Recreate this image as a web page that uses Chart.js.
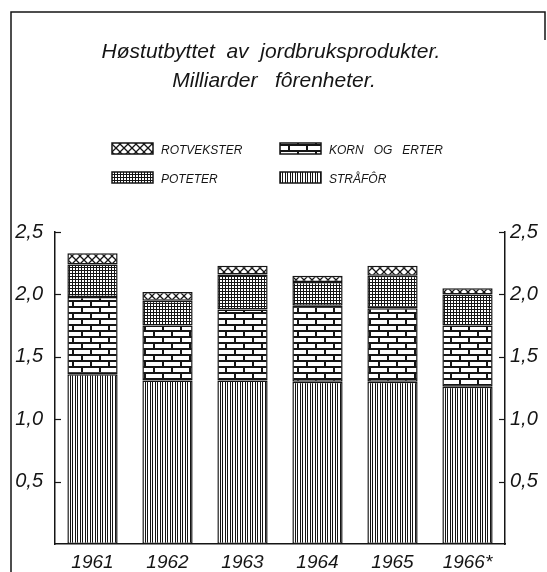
<!DOCTYPE html>
<html>
<head>
<meta charset="utf-8">
<script src="https://cdn.jsdelivr.net/npm/chart.js@4/dist/chart.umd.min.js"></script>
<style>
  body { margin: 0; background: #fff; }
  canvas { display: block; }
</style>
</head>
<body>
<canvas id="harvestChart" width="547" height="572"></canvas>
<script>
// Høstutbyttet av jordbruksprodukter, milliarder fôrenheter
const years = ['1961', '1962', '1963', '1964', '1965', '1966*'];
const straafor = [1.36, 1.31, 1.31, 1.30, 1.30, 1.26];
const kornOgErter = [0.62, 0.44, 0.57, 0.61, 0.59, 0.49];
const poteter = [0.26, 0.20, 0.28, 0.19, 0.26, 0.25];
const rotvekster = [0.09, 0.07, 0.07, 0.05, 0.08, 0.05];
const titleLines = ['Høstutbyttet  av  jordbruksprodukter.', 'Milliarder   fôrenheter.'];

const INK = '#151515';
const FONT = '"Liberation Sans", Arial, sans-serif';

// small tiles used as fill patterns (like the hatchings in the print)
function makePattern(w, h, draw) {
    const c = document.createElement('canvas');
    c.width = w;
    c.height = h;
    const g = c.getContext('2d');
    g.fillStyle = '#fff';
    g.fillRect(0, 0, w, h);
    g.fillStyle = INK;
    g.strokeStyle = INK;
    draw(g, w, h);
    return g.createPattern(c, 'repeat');
}

const strawFill = makePattern(5, 1, g => {
    g.fillRect(0, 0, 1, 1);
    g.fillRect(2, 0, 1, 1);
});
const brickFill = makePattern(18, 12, g => {
    g.fillRect(0, 0, 18, 2);
    g.fillRect(0, 6, 18, 2);
    g.fillRect(0, 0, 2, 6);
    g.fillRect(9, 6, 2, 6);
});
const potatoFill = makePattern(3, 3, g => {
    g.fillRect(0, 0, 3, 1);
    g.fillRect(0, 0, 1, 3);
});
const rootFill = makePattern(8, 8, g => {
    g.lineWidth = 1.3;
    g.beginPath();
    g.moveTo(-1, -1); g.lineTo(9, 9);
    g.moveTo(9, -1); g.lineTo(-1, 9);
    g.stroke();
});

const fmt = v => v.toFixed(1).replace('.', ',');

// title, legend, frame and inward tick marks
const decorations = {
    id: 'decorations',
    afterDraw(chart) {
        const ctx = chart.ctx;
        ctx.save();

        // frame
        ctx.strokeStyle = INK;
        ctx.lineWidth = 1.5;
        ctx.beginPath();
        ctx.moveTo(11, 572);
        ctx.lineTo(11, 12);
        ctx.lineTo(545, 12);
        ctx.lineTo(545, 40);
        ctx.stroke();

        // title
        ctx.fillStyle = INK;
        ctx.textAlign = 'center';
        ctx.textBaseline = 'alphabetic';
        ctx.font = 'italic 21px ' + FONT;
        ctx.fillText(titleLines[0], 271, 58);
        ctx.fillText(titleLines[1], 274, 87);

        // legend, two columns
        const order = [3, 1, 2, 0];
        const spots = [[112, 143], [280, 143], [112, 172], [280, 172]];
        ctx.font = 'italic 12px ' + FONT;
        ctx.textAlign = 'left';
        order.forEach((di, i) => {
            const ds = chart.data.datasets[di];
            const [x, y] = spots[i];
            ctx.fillStyle = ds.backgroundColor;
            ctx.fillRect(x, y, 41, 11);
            ctx.lineWidth = 1.5;
            ctx.strokeRect(x, y, 41, 11);
            ctx.fillStyle = INK;
            ctx.fillText(ds.label.toUpperCase().replace(/ /g, '   '), x + 49, y + 11);
        });

        // tick marks pointing into the plot
        const area = chart.chartArea;
        ctx.lineWidth = 1.2;
        ['y', 'y2'].forEach(id => {
            const sc = chart.scales[id];
            const x0 = id === 'y' ? area.left : area.right;
            const dir = id === 'y' ? 1 : -1;
            sc.ticks.forEach(t => {
                if (t.value === 0) return;
                const py = Math.round(sc.getPixelForValue(t.value)) + 0.5;
                ctx.beginPath();
                ctx.moveTo(x0, py);
                ctx.lineTo(x0 + dir * 6, py);
                ctx.stroke();
            });
        });
        ctx.restore();
    }
};

const yTickOpts = (padding) => ({
    stepSize: 0.5,
    padding: padding,
    color: INK,
    font: { family: FONT, size: 20, style: 'italic' },
    callback: v => (v === 0 ? '' : fmt(v))
});

new Chart(document.getElementById('harvestChart'), {
    type: 'bar',
    data: {
        labels: years,
        datasets: [
            { label: 'Stråfôr', data: straafor, backgroundColor: strawFill },
            { label: 'Korn og erter', data: kornOgErter, backgroundColor: brickFill },
            { label: 'Poteter', data: poteter, backgroundColor: potatoFill },
            { label: 'Rotvekster', data: rotvekster, backgroundColor: rootFill }
        ].map(d => Object.assign(d, {
            borderColor: INK,
            borderWidth: 1.5,
            borderSkipped: false,
            barPercentage: 0.67,
            categoryPercentage: 1.0
        }))
    },
    options: {
        responsive: false,
        animation: false,
        layout: { padding: { top: 232, left: 0, right: 0, bottom: 0 } },
        plugins: {
            legend: { display: false },
            title: { display: false },
            tooltip: { enabled: false }
        },
        scales: {
            x: {
                stacked: true,
                grid: { display: false, drawTicks: false },
                border: { display: true, color: INK, width: 1.5 },
                ticks: {
                    padding: 7,
                    color: INK,
                    font: { family: FONT, size: 19, style: 'italic' }
                },
                afterFit: s => { s.height = 28; }
            },
            y: {
                stacked: true,
                position: 'left',
                min: 0,
                max: 2.5,
                grid: { display: false, drawTicks: false },
                border: { display: true, color: INK, width: 1.5 },
                ticks: yTickOpts(12),
                afterFit: s => { s.width = 55; }
            },
            y2: {
                position: 'right',
                min: 0,
                max: 2.5,
                grid: { display: false, drawTicks: false },
                border: { display: true, color: INK, width: 1.5 },
                ticks: yTickOpts(5),
                afterFit: s => { s.width = 42; }
            }
        }
    },
    plugins: [decorations]
});
</script>
</body>
</html>
